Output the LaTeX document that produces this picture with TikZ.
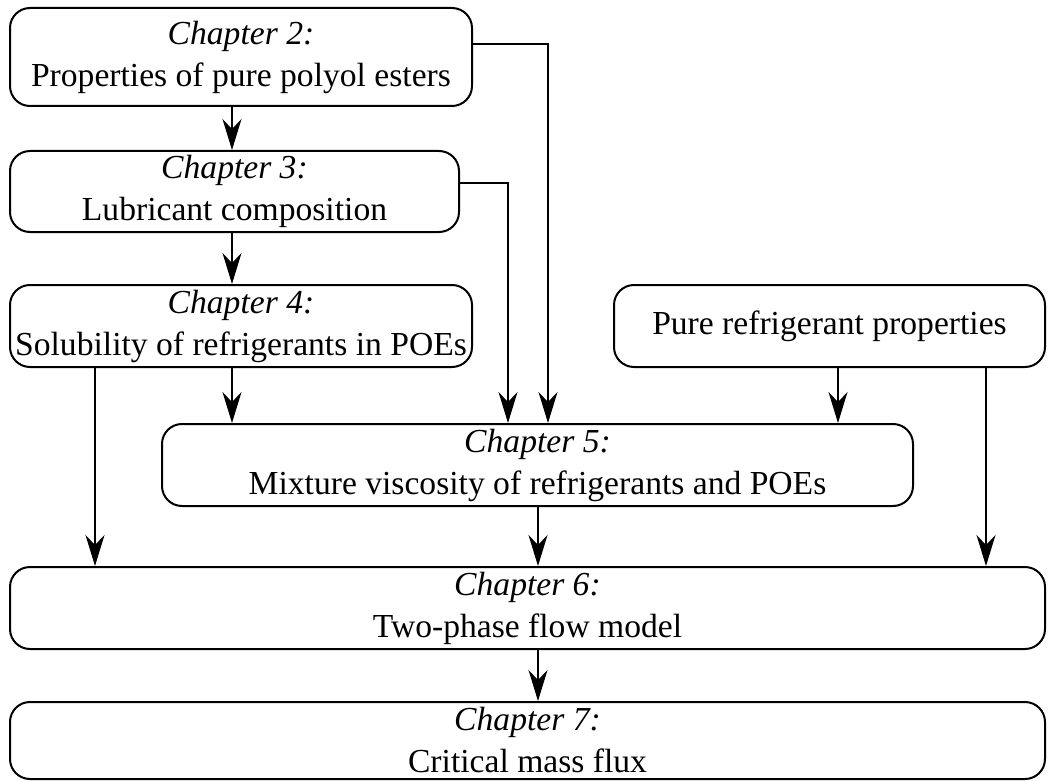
\documentclass[tikz,border=0pt]{standalone}
\usepackage{fontspec}
\setmainfont{Liberation Serif}
\usetikzlibrary{arrows.meta}

\tikzset{
  chapbox/.style={draw, line width=1pt, rounded corners=10pt, align=center, inner sep=0pt},
  flow/.style={-{Stealth[length=15.5pt,width=9.5pt,inset=5pt]}, line width=0.9pt},
}

\begin{document}
\begin{tikzpicture}[x=0.5pt, y=-0.5pt, font=\fontsize{16.8}{21}\selectfont]
  \useasboundingbox (0,0) rectangle (1055,781);
  \node[chapbox, minimum width=231pt, minimum height=49pt] (ch2) at (241,57)
    {\textit{Chapter 2:}\\Properties of pure polyol esters};
  \node[chapbox, minimum width=224.5pt, minimum height=40.5pt] (ch3) at (234.5,191.5)
    {\textit{Chapter 3:}\\Lubricant composition};
  \node[chapbox, minimum width=231pt, minimum height=41pt] (ch4) at (241,326)
    {\textit{Chapter 4:}\\Solubility of refrigerants in POEs};
  \node[chapbox, minimum width=215.5pt, minimum height=41pt] (pure) at (829.5,326)
    {Pure refrigerant properties};
  \node[chapbox, minimum width=375.5pt, minimum height=41pt] (ch5) at (537.5,465)
    {\textit{Chapter 5:}\\Mixture viscosity of refrigerants and POEs};
  \node[chapbox, minimum width=517.5pt, minimum height=41pt] (ch6) at (527.5,608)
    {\textit{Chapter 6:}\\Two-phase flow model};
  \node[chapbox, minimum width=517.5pt, minimum height=38.5pt] (ch7) at (527.5,740.5)
    {\textit{Chapter 7:}\\Critical mass flux};
  \draw[flow] (232,0 |- ch2.south) -- (232,0 |- ch3.north);
  \draw[flow] (232,0 |- ch3.south) -- (232,0 |- ch4.north);
  \draw[flow] (232,0 |- ch4.south) -- (232,0 |- ch5.north);
  \draw[flow] (95,0 |- ch4.south) -- (95,0 |- ch6.north);
  \draw[flow] (ch2.east |- 0,44) -| (548,0 |- ch5.north);
  \draw[flow] (ch3.east |- 0,183) -| (508,0 |- ch5.north);
  \draw[flow] (838,0 |- pure.south) -- (838,0 |- ch5.north);
  \draw[flow] (986,0 |- pure.south) -- (986,0 |- ch6.north);
  \draw[flow] (538,0 |- ch5.south) -- (538,0 |- ch6.north);
  \draw[flow] (538,0 |- ch6.south) -- (538,0 |- ch7.north);
\end{tikzpicture}
\end{document}
